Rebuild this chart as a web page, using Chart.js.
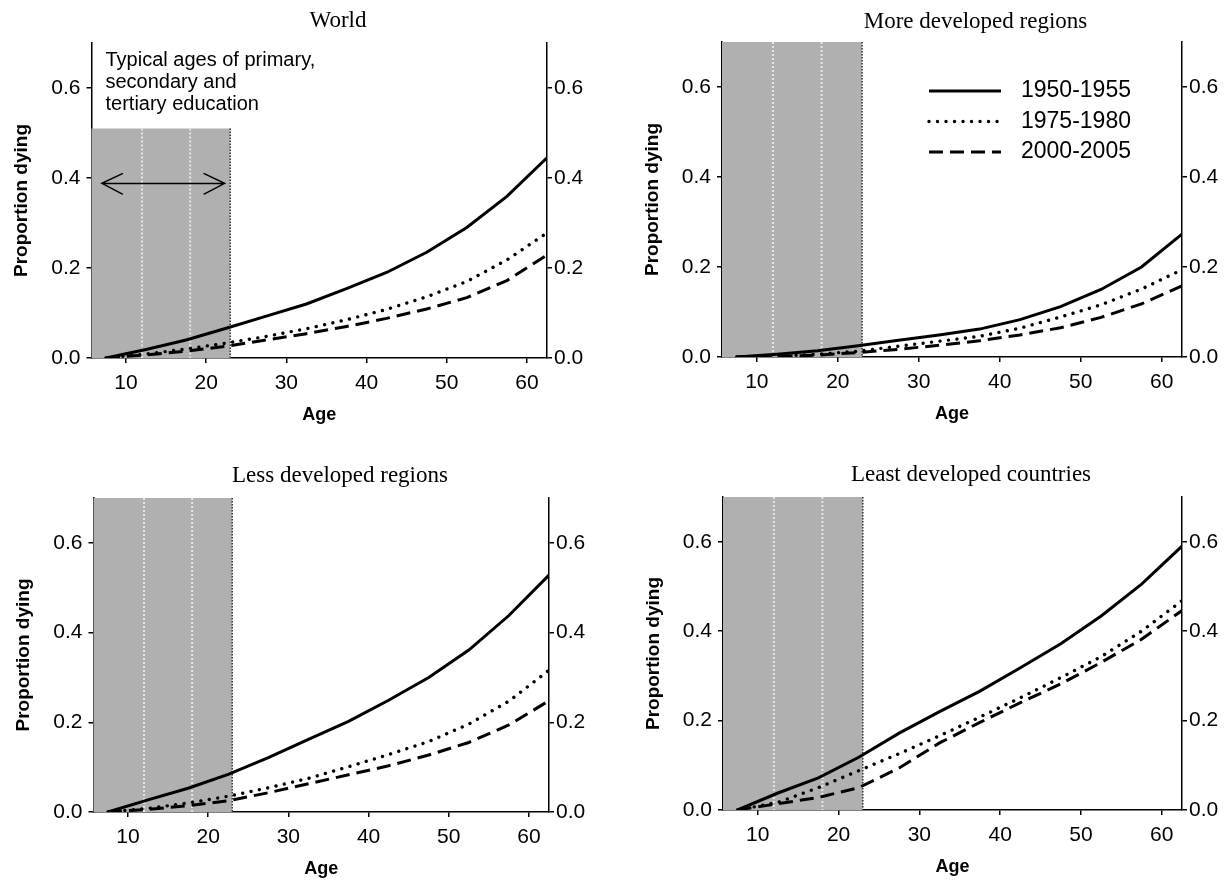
<!DOCTYPE html>
<html>
<head>
<meta charset="utf-8">
<script src="https://cdn.jsdelivr.net/npm/chart.js@4.4.1/dist/chart.umd.min.js"></script>
<style>
  body { margin: 0; background: #fff; }
  #wrap { position: relative; width: 1232px; height: 880px; }
  .panel { position: absolute; width: 616px; height: 440px; }
</style>
</head>
<body>
<div id="wrap">
  <div class="panel" style="left:0;top:0"><canvas id="g1" width="616" height="440"></canvas></div>
  <div class="panel" style="left:616px;top:0"><canvas id="g2" width="616" height="440"></canvas></div>
  <div class="panel" style="left:0;top:440px"><canvas id="g3" width="616" height="440"></canvas></div>
  <div class="panel" style="left:616px;top:440px"><canvas id="g4" width="616" height="440"></canvas></div>
</div>
<script>
// dados
const ages = [7.5, 12.5, 17.5, 22.5, 27.5, 32.5, 37.5, 42.5, 47.5, 52.5, 57.5, 62.5];
const periods = ['1950-1955', '1975-1980', '2000-2005'];
const xTicks = [10, 20, 30, 40, 50, 60];
const yTicks = [0, 0.2, 0.4, 0.6];
const eduBand = [5.7, 23];
const eduDivs = [12, 18];
const eduArrow = [7.0, 22.3];
const eduArrowY = 0.388;
const eduNote = ['Typical ages of primary,', 'secondary and', 'tertiary education'];
const panelTitles = ['World', 'More developed regions', 'Less developed regions', 'Least developed countries'];

const world1950 = [0, 0.019, 0.040, 0.066, 0.093, 0.120, 0.154, 0.190, 0.235, 0.290, 0.359, 0.445];
const world1975 = [0, 0.009, 0.020, 0.033, 0.048, 0.065, 0.085, 0.108, 0.136, 0.170, 0.218, 0.278];
const world2000 = [0, 0.007, 0.015, 0.026, 0.040, 0.054, 0.070, 0.088, 0.109, 0.134, 0.172, 0.229];

const more1950 = [0, 0.006, 0.014, 0.025, 0.037, 0.049, 0.062, 0.083, 0.112, 0.150, 0.200, 0.273];
const more1975 = [0, 0.002, 0.006, 0.013, 0.024, 0.035, 0.046, 0.064, 0.089, 0.116, 0.151, 0.194];
const more2000 = [0, 0.001, 0.004, 0.010, 0.017, 0.026, 0.036, 0.049, 0.065, 0.088, 0.118, 0.158];

const less1950 = [0, 0.027, 0.053, 0.084, 0.121, 0.162, 0.202, 0.249, 0.300, 0.361, 0.438, 0.528];
const less1975 = [0, 0.008, 0.020, 0.035, 0.054, 0.075, 0.101, 0.128, 0.157, 0.196, 0.247, 0.316];
const less2000 = [0, 0.006, 0.014, 0.025, 0.043, 0.063, 0.083, 0.103, 0.127, 0.155, 0.194, 0.248];

const least1950 = [0, 0.038, 0.072, 0.118, 0.172, 0.220, 0.266, 0.318, 0.372, 0.434, 0.505, 0.590];
const least1975 = [0, 0.017, 0.050, 0.088, 0.126, 0.166, 0.208, 0.251, 0.296, 0.343, 0.400, 0.468];
const least2000 = [0, 0.014, 0.028, 0.050, 0.094, 0.150, 0.196, 0.240, 0.282, 0.330, 0.382, 0.446];

const SANS = '"Liberation Sans", Arial, sans-serif';
const SERIF = '"Liberation Serif", "Times New Roman", serif';

// estilo de cada periodo: cheia, pontilhada, tracejada
const estilos = [
    { borderWidth: 3, borderDash: [], borderCapStyle: 'butt' },
    { borderWidth: 3.4, borderDash: [0.01, 8.5], borderCapStyle: 'round' },
    { borderWidth: 3, borderDash: [14, 7], borderCapStyle: 'butt' }
];

const paineis = [
    { id: 'g1', series: [world1950, world1975, world2000], pad: { left: 10.5, right: 29, top: 43, bottom: 14 }, bandTop: 0.51, title: [338, 27], note: true },
    { id: 'g2', series: [more1950, more1975, more2000], pad: { left: 25, right: 10, top: 42, bottom: 15 }, bandTop: 0.7, title: [359.5, 28], legend: true },
    { id: 'g3', series: [less1950, less1975, less2000], pad: { left: 12.5, right: 27, top: 58, bottom: 0 }, bandTop: 0.7, title: [340, 42] },
    { id: 'g4', series: [least1950, least1975, least2000], pad: { left: 26, right: 10, top: 57, bottom: 2 }, bandTop: 0.7, title: [355, 41] }
];

function linhaTracejada(ctx, x0, y0, x1, y1, dash, width) {
    ctx.save();
    ctx.lineWidth = width;
    ctx.setLineDash(dash);
    ctx.beginPath();
    ctx.moveTo(x0, y0);
    ctx.lineTo(x1, y1);
    ctx.stroke();
    ctx.restore();
}

// faixa cinza das idades escolares
const faixaPlugin = {
    id: 'faixa',
    beforeDatasetsDraw(chart, args, opts) {
        const ctx = chart.ctx;
        const x = chart.scales.x, y = chart.scales.y;
        const x0 = x.getPixelForValue(eduBand[0]);
        const x1 = x.getPixelForValue(eduBand[1]);
        const yt = y.getPixelForValue(opts.top);
        const yb = y.getPixelForValue(0);
        ctx.save();
        ctx.fillStyle = '#b0b0b0';
        ctx.fillRect(x0, yt, x1 - x0, yb - yt);
        ctx.strokeStyle = '#e6e6e6';
        eduDivs.forEach(a => {
            const px = x.getPixelForValue(a);
            linhaTracejada(ctx, px, yt, px, yb, [2, 2], 2);
        });
        ctx.strokeStyle = '#333';
        linhaTracejada(ctx, x1, yt, x1, yb, [1.5, 1.5], 1.5);
        ctx.restore();
    }
};

// titulo, legenda e nota
const textosPlugin = {
    id: 'textos',
    afterDraw(chart, args, opts) {
        const ctx = chart.ctx;
        const area = chart.chartArea;
        ctx.save();
        ctx.fillStyle = '#000';
        ctx.font = '23px ' + SERIF;
        ctx.textAlign = 'center';
        ctx.textBaseline = 'alphabetic';
        ctx.fillText(opts.title, opts.titlePos[0], opts.titlePos[1]);

        if (opts.legend) {
            ctx.font = '23px ' + SANS;
            ctx.textAlign = 'left';
            ctx.textBaseline = 'middle';
            chart.data.datasets.forEach((ds, i) => {
                const yy = area.top + 49 + i * 30.5;
                ctx.strokeStyle = '#000';
                ctx.lineCap = ds.borderCapStyle;
                linhaTracejada(ctx, area.left + 207, yy, area.left + 279, yy, ds.borderDash, ds.borderWidth);
                ctx.fillText(ds.label, area.left + 299, yy);
            });
        }

        if (opts.note) {
            const x = chart.scales.x, y = chart.scales.y;
            ctx.font = '20px ' + SANS;
            ctx.textAlign = 'left';
            eduNote.forEach((t, i) => ctx.fillText(t, area.left + 14, area.top + 23 + i * 22));
            const xa = x.getPixelForValue(eduArrow[0]);
            const xb = x.getPixelForValue(eduArrow[1]);
            const ya = y.getPixelForValue(eduArrowY);
            ctx.strokeStyle = '#000';
            ctx.lineWidth = 1.5;
            ctx.beginPath();
            ctx.moveTo(xa, ya); ctx.lineTo(xb, ya);
            ctx.moveTo(xa + 21, ya - 10); ctx.lineTo(xa, ya); ctx.lineTo(xa + 21, ya + 11);
            ctx.moveTo(xb - 21, ya - 10); ctx.lineTo(xb, ya); ctx.lineTo(xb - 21, ya + 11);
            ctx.stroke();
        }
        ctx.restore();
    }
};

function montar(p, idx) {
    const datasets = p.series.map((serie, i) => Object.assign({
        label: periods[i],
        data: ages.map((a, j) => ({ x: a, y: serie[j] })),
        borderColor: '#000',
        backgroundColor: '#000',
        pointRadius: 0,
        tension: 0,
        fill: false
    }, estilos[i]));

    const eixoY = (pos) => ({
        type: 'linear',
        position: pos,
        min: 0,
        max: 0.7,
        afterBuildTicks: s => { s.ticks = yTicks.map(v => ({ value: v })); },
        afterFit: s => { s.width = pos === 'left' ? 81 : 40; },
        border: { display: true, color: '#000', width: 1.5 },
        grid: { display: true, drawOnChartArea: false, drawTicks: true, tickLength: 5, color: '#000', lineWidth: 1.5 },
        ticks: {
            color: '#000',
            font: { family: SANS, size: 21 },
            padding: pos === 'left' ? 6 : 2,
            callback: v => v.toFixed(1)
        },
        title: {
            display: pos === 'left',
            text: 'Proportion dying',
            color: '#000',
            font: { family: SANS, size: 19, weight: 'bold' },
            padding: { top: 0, bottom: 0 }
        }
    });

    new Chart(document.getElementById(p.id), {
        type: 'line',
        data: { datasets: datasets },
        plugins: [faixaPlugin, textosPlugin],
        options: {
            responsive: false,
            animation: false,
            layout: { padding: p.pad },
            scales: {
                x: {
                    type: 'linear',
                    min: 5.7,
                    max: 62.5,
                    afterBuildTicks: s => { s.ticks = xTicks.map(v => ({ value: v })); },
                    afterFit: s => { s.height = 68; },
                    border: { display: true, color: '#000', width: 1.5 },
                    grid: { display: true, drawOnChartArea: false, drawTicks: true, tickLength: 5, color: '#000', lineWidth: 1.5 },
                    ticks: { color: '#000', font: { family: SANS, size: 21 }, padding: 8, maxRotation: 0 },
                    title: {
                        display: true,
                        text: 'Age',
                        color: '#000',
                        font: { family: SANS, size: 18, weight: 'bold' },
                        padding: { top: 0, bottom: 0 }
                    }
                },
                y: eixoY('left'),
                y2: eixoY('right')
            },
            plugins: {
                legend: { display: false },
                tooltip: { enabled: false },
                faixa: { top: p.bandTop },
                textos: { title: panelTitles[idx], titlePos: p.title, legend: !!p.legend, note: !!p.note }
            }
        }
    });
}

paineis.forEach(montar);
</script>
</body>
</html>
